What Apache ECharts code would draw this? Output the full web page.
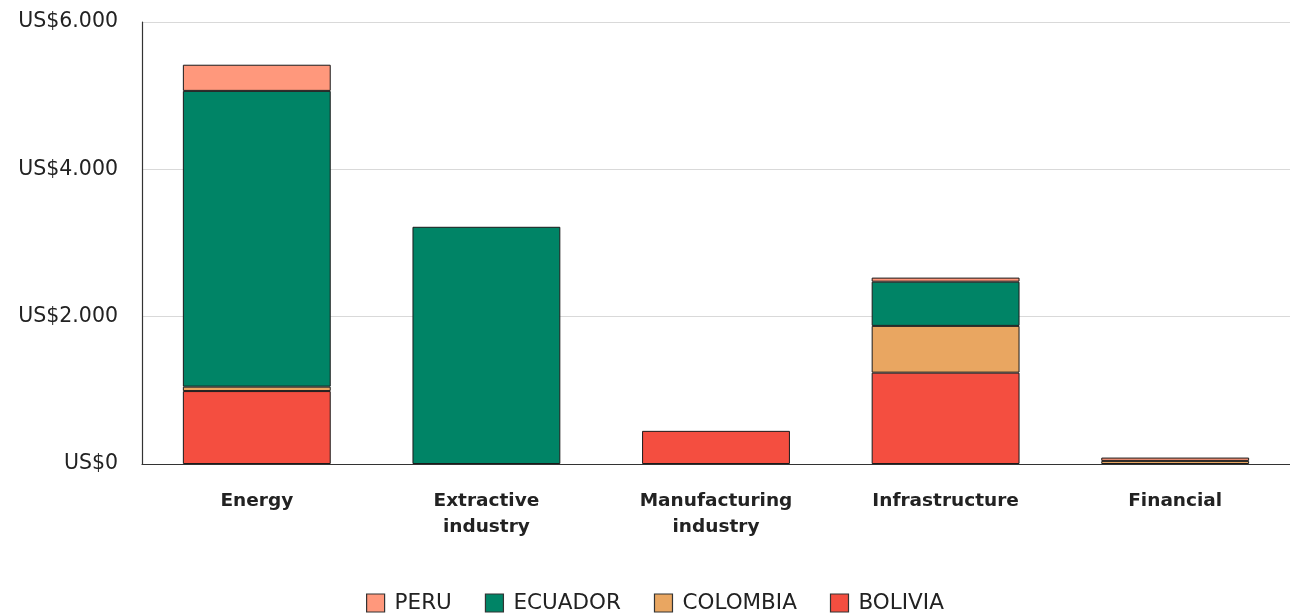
<!DOCTYPE html>
<html><head><meta charset="utf-8">
<script src="https://cdn.jsdelivr.net/npm/echarts@6/dist/echarts.min.js"></script>
<style>html,body{margin:0;padding:0;background:#fff}#c{width:1290px;height:614px}</style>
</head><body><div id="c"></div>
<script>
const categories = ['Energy', 'Extractive\nindustry', 'Manufacturing\nindustry', 'Infrastructure', 'Financial'];
const bolivia = [990, 0, 450, 1240, 0];
const colombia = [60, 0, 0, 635, 42];
const ecuador = [4015, 3220, 0, 600, 0];
const peru = [355, 0, 0, 55, 45];
const yTicks = [0, 2000, 4000, 6000];
const legendOrder = ['PERU', 'ECUADOR', 'COLOMBIA', 'BOLIVIA'];

const font = '"DejaVu Sans", "Open Sans", sans-serif';
const chart = echarts.init(document.getElementById('c'), null, {renderer: 'canvas'});
function fmt(v){ return 'US$' + String(v).replace(/\B(?=(\d{3})+(?!\d))/g, '.'); }
function s(name, data, color){
  return {name, type:'bar', stack:'t', data: data.map(v => v === 0 ? null : v), barWidth: '64.4%',
    itemStyle:{color, borderColor:'#1a1a1a', borderWidth:1}, emphasis:{disabled:true}};
}
chart.setOption({
  animation:false,
  grid:{left:142, right:-2, top:22, bottom:150},
  legend:{data:legendOrder, bottom:-5, left:361, padding:5, itemWidth:18, itemHeight:18, itemGap:33,
    icon:'rect', textStyle:{fontFamily:font, fontSize:21.5, color:'#222', padding:[2,0,0,5]},
    itemStyle:{borderColor:'#333', borderWidth:1.2}},
  xAxis:{type:'category', data:categories,
    axisLine:{lineStyle:{color:'#333', width:1.2}}, axisTick:{show:false},
    axisLabel:{fontFamily:font, fontWeight:'bold', fontSize:18.5, color:'#222', margin:24, lineHeight:26, interval:0}},
  yAxis:{type:'value', min:0, max:6000, interval:2000,
    axisLine:{show:true, lineStyle:{color:'#333', width:1.2}}, axisTick:{show:false},
    splitLine:{lineStyle:{color:'#d9d9d9'}},
    axisLabel:{fontFamily:font, fontSize:20.5, color:'#222', margin:24, formatter: v => yTicks.includes(v) ? fmt(v) : ''}},
  series:[
    s('BOLIVIA', bolivia, '#F44E40'),
    s('COLOMBIA', colombia, '#E9A661'),
    s('ECUADOR', ecuador, '#008466'),
    s('PERU', peru, '#FF987C')
  ]
});
</script></body></html>
